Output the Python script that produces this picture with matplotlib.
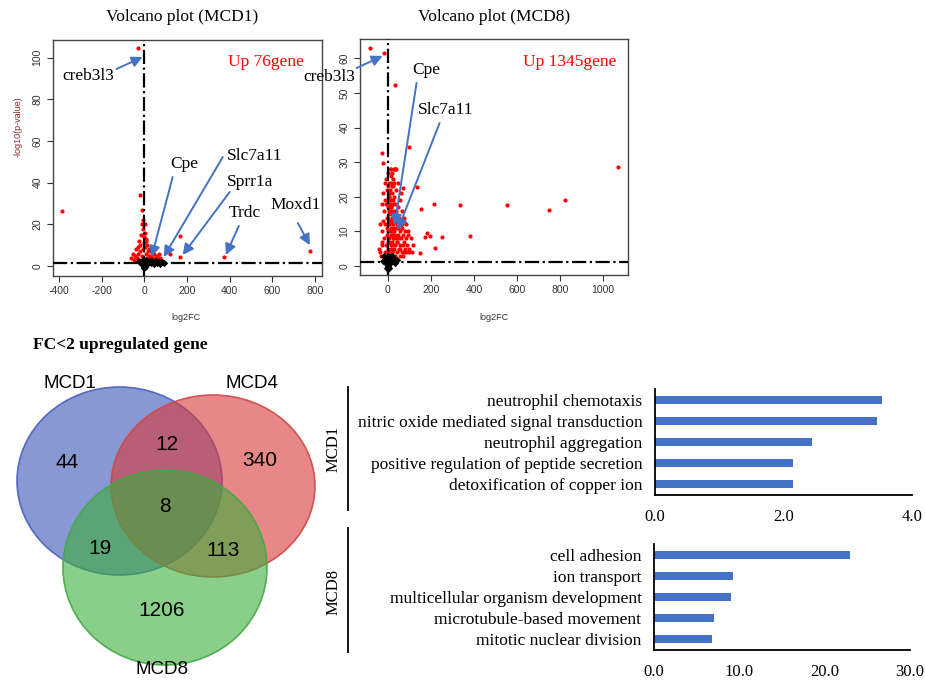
import numpy as np
import matplotlib.pyplot as plt
from matplotlib.patches import Ellipse

plt.rcParams["axes.unicode_minus"] = False

# -------------------------------------------------------------
# DATA
# -------------------------------------------------------------

# Volcano MCD1 (log2FC, -log10 p)
mcd1_red_x = [-30, -386, -22, -11, 169, 122, 167, 374, 775,
              -55, -45, -40, -35, -30, -25, -20, -15, -12, -8, -5, -3, 0, 3, 5,
              8, 10, 12, 15, 18, 20, 22, 25, 30, 35, 40, 45, 50, 55, 60, 70, 75,
              80, -10, -18, -28, -50, -62, 2, 6, -6, 14, 28, 38, 65]
mcd1_red_y = [104.8, 26.6, 34, 27, 14.4, 5.8, 4.3, 4.3, 7.4,
              6, 5, 8, 4, 9, 12, 7, 15, 20, 22, 18, 11, 14, 16, 9,
              13, 6, 10, 7, 4, 8, 5, 3, 5, 4, 3.5, 6, 4, 3, 5, 6, 4,
              3, 5, 10, 6, 3, 4, 20, 12, 8, 3, 7, 2.5, 3]
mcd1_black_x = [0, -5, 5, -10, 10, -15, 15, -20, 20, 0, 0, -5, 5, 30, 40, 50,
                60, 70, 80, 90, -25, 25, 0, -8, 8, -3, 3, 0, 35, 45, 55, 65, 75, 85]
mcd1_black_y = [0, 0.5, 0.5, 1, 1, 1.5, 1.5, 2, 2, 1, 2, 1.5, 1.5, 1.5, 1.8, 2,
                1.5, 1.7, 2, 1.5, 2.5, 2.5, 3, 2.8, 2.8, -0.5, -0.5, -1, 2.2, 1.2,
                2.4, 2.1, 1.2, 1.9]

# Volcano MCD8
mcd8_red_x = [-82, -19, 31, 98, -26, -23, 1070, 15, 27, 39, 136, 70, 155, 214,
              333, 553, 747, 823, 381, 250, 180, 194, 171, 220, 147,
              -40, -35, -30, -28, -25, -22, -20, -18, -15, -12, -10, -8, -6, -5,
              -3, -2, 0, 2, 3, 4, 5, 6, 7, 8, 9, 10, 11, 12, 13, 14, 15, 16, 17,
              18, 19, 20, 21, 22, 23, 24, 25, 26, 27, 28, 29, 30, 31, 32, 33, 34,
              35, 36, 37, 38, 39, 40, 42, 44, 46, 48, 50, 52, 54, 56, 58, 60, 62,
              64, 66, 68, 70, 72, 75, 78, 80, 83, 86, 90, 95, 100, 105, 110, 115,
              -33, -26, -14, -1, 1, 8, 12, 18, 22, 28, 35, 45, 55, 65, 75, 85,
              -38, -30, -16, 92, 98, 24, 34,
              -4, 1, 4, 7, 10, 13, 16, 19, 22, 25, 2, 5, 9, 12, 15, 18, 21, 24,
              27, 30, -7, -1, 3, 6, 11, 14, 17, 20, 23, 26, 33, 37, 41, 45, 49,
              53, 57, 61, 67, 73]
mcd8_red_y = [63.1, 61.5, 52.3, 34.5, 32.8, 29.9, 28.5, 28, 28, 28, 22.7, 22.4,
              16.4, 17.9, 17.6, 17.6, 16.2, 19, 8.7, 8.5, 9.4, 8.7, 8.3, 5.1, 3.7,
              5, 4, 6, 10, 13, 21, 8, 16, 12, 19, 25, 6, 14, 22,
              9, 17, 27, 4, 12, 20, 24, 7, 15, 10, 18, 3, 22, 13, 6, 26, 9, 17, 4,
              11, 21, 14, 7, 19, 3, 12, 25, 8, 16, 5, 20, 10, 28, 13, 6, 18,
              3, 11, 22, 8, 15, 4, 12, 7, 17, 9, 5, 14, 3, 10, 6, 21, 8,
              4, 12, 6, 9, 3, 7, 5, 10, 4, 8, 6, 9, 5, 8, 4, 6,
              3, 7, 4, 5, 10, 28, 24, 27, 23, 24, 28, 24, 19, 16, 14, 12,
              12, 18, 24, 10, 4, 18, 14,
              11, 7, 16, 20, 13, 5, 11, 15, 9, 6, 23, 19, 21, 17, 13, 10, 16, 8,
              11, 15, 18, 14, 8, 12, 16, 19, 23, 4, 10, 14, 9, 16, 7, 11, 13,
              8, 5, 12, 11, 4]
mcd8_black_x = [0, -5, 5, -10, 10, -15, 15, 0, -5, 5, 0, -20, 20, 0, 25, 30, 35,
                40, -25, 10, -10, -3, 3]
mcd8_black_y = [0, 0.5, 0.5, 1, 1, 2, 2, 1.5, 2.5, 2.5, 3, 2.8, 2.8, -1, 1.5, 2,
                1, 1.8, 1.5, 2.5, 2.2, -0.5, -0.5]

# Venn counts (FC<2 upregulated genes)
venn_sets = ["MCD1", "MCD4", "MCD8"]
venn_regions = ["1", "12", "4", "124", "18", "48", "8"]
venn_counts = [44, 12, 340, 8, 19, 113, 1206]

# GO enrichment
go_mcd1_terms = ["neutrophil chemotaxis", "nitric oxide mediated signal transduction",
                 "neutrophil aggregation", "positive regulation of peptide secretion",
                 "detoxification of copper ion"]
go_mcd1_values = [3.53, 3.45, 2.44, 2.15, 2.15]
go_mcd8_terms = ["cell adhesion", "ion transport", "multicellular organism development",
                 "microtubule-based movement", "mitotic nuclear division"]
go_mcd8_values = [23.0, 9.2, 9.0, 7.0, 6.8]


# -------------------------------------------------------------
# HELPERS
# -------------------------------------------------------------

W, H = 925, 682
SERIF = "Liberation Serif"
SANS = "Liberation Sans"
ARROW = "#4472C4"


def rect(left, top, right, bottom):
    return [left / W, 1 - bottom / H, (right - left) / W, (bottom - top) / H]


def volcano(ax, rx, ry, bx, by, xlim, ylim, xticks, yticks):
    ax.scatter(rx, ry, s=9, c="#FF0000", linewidths=0, zorder=2)
    ax.scatter(bx, by, s=14, c="black", marker="D", linewidths=0, zorder=3)
    ax.axvline(0, color="black", ls="-.", lw=1.6, zorder=4)
    ax.axhline(1.3, color="black", ls="-.", lw=1.6, zorder=4)
    ax.set_xlim(xlim)
    ax.set_ylim(ylim)
    ax.set_xticks(xticks)
    ax.set_yticks(yticks)
    ax.tick_params(labelsize=7.5, direction="out", length=4, width=0.8,
                   colors="#333333")
    for lab in ax.get_xticklabels() + ax.get_yticklabels():
        lab.set_fontfamily(SANS)
    for lab in ax.get_yticklabels():
        lab.set_rotation(90)
        lab.set_va("center")
    for sp in ax.spines.values():
        sp.set_color("#444444")
        sp.set_linewidth(1)


def label_arrow(ax, text, txy, tail, tip):
    ax.text(txy[0], txy[1], text, family=SERIF, fontsize=12.5,
            ha="center", va="center", zorder=6, clip_on=False)
    ax.annotate("", xy=tip, xytext=tail, annotation_clip=False, zorder=6,
                arrowprops=dict(arrowstyle="-|>", color=ARROW, lw=1.4,
                                mutation_scale=16, shrinkA=0, shrinkB=0))


def go_bar(ax, terms, values, xmax, xticks):
    y = np.arange(len(terms))
    ax.barh(y, values, height=0.38, color="#4472C4")
    ax.set_ylim(len(terms) - 0.5, -0.5)
    ax.set_xlim(0, xmax)
    ax.set_yticks(y)
    ax.set_yticklabels(terms, family=SERIF, fontsize=12.5)
    ax.set_xticks(xticks)
    ax.set_xticklabels(["%.1f" % t for t in xticks], family=SERIF, fontsize=12)
    ax.tick_params(axis="both", length=0)
    ax.tick_params(axis="y", pad=9)
    ax.tick_params(axis="x", pad=10)
    for s in ["top", "right"]:
        ax.spines[s].set_visible(False)
    for s in ["left", "bottom"]:
        ax.spines[s].set_linewidth(1.3)
        ax.spines[s].set_color("black")


fig = plt.figure(figsize=(9.25, 6.82), dpi=100)

# -------------------------------------------------------------
# VOLCANO PLOTS
# -------------------------------------------------------------

ax1 = fig.add_axes(rect(53, 40, 322, 276))
volcano(ax1, mcd1_red_x, mcd1_red_y, mcd1_black_x, mcd1_black_y,
        (-428, 833), (-4.8, 108.5), range(-400, 801, 200), range(0, 101, 20))
ax1.text(569, 98, "Up 76gene", color="red", family=SERIF, fontsize=12.5,
         ha="center", va="center")
label_arrow(ax1, "creb3l3", (-261, 91), (-130, 94.6), (-8, 100.3))
label_arrow(ax1, "Cpe", (189, 49), (133, 42.7), (34, 4.3))
label_arrow(ax1, "Slc7a11", (518, 52.8), (368, 52.3), (91, 4.3))
label_arrow(ax1, "Sprr1a", (494, 40.3), (400, 35.5), (180, 5.3))
label_arrow(ax1, "Trdc", (471, 25.4), (443, 19.2), (382, 5.3))
label_arrow(ax1, "Moxd1", (710, 29.3), (720, 20.6), (776, 10))

ax2 = fig.add_axes(rect(360, 39, 628, 275))
volcano(ax2, mcd8_red_x, mcd8_red_y, mcd8_black_x, mcd8_black_y,
        (-130, 1116), (-2.6, 65.6), range(0, 1001, 200), range(0, 61, 10))
ax2.text(845, 59, "Up 1345gene", color="red", family=SERIF, fontsize=12.5,
         ha="center", va="center")
label_arrow(ax2, "creb3l3", (-271, 54.6), (-146, 57.2), (-25, 60.7))
label_arrow(ax2, "Cpe", (180, 56.6), (133, 52.9), (31, 11.8))
label_arrow(ax2, "Slc7a11", (268, 45), (240, 41.3), (45, 10.4))

fig.text(182 / W, 1 - 17 / H, "Volcano plot (MCD1)", family=SERIF, fontsize=12.5,
         ha="center", va="center")
fig.text(494 / W, 1 - 17 / H, "Volcano plot (MCD8)", family=SERIF, fontsize=12.5,
         ha="center", va="center")
fig.text(18 / W, 1 - 127 / H, "-log10(p-value)", family=SANS, fontsize=6.5,
         color="#8B2323", rotation=90, ha="center", va="center")
for cx in [186, 494]:
    fig.text(cx / W, 1 - 318 / H, "log2FC", family=SANS, fontsize=6.5,
             color="#333333", ha="center", va="center")

# -------------------------------------------------------------
# VENN DIAGRAM
# -------------------------------------------------------------

ov = fig.add_axes([0, 0, 1, 1], zorder=-1)
ov.set_xlim(0, W)
ov.set_ylim(H, 0)
ov.axis("off")

venn_shapes = [((119.5, 481), 205, 188, "#3854B7", "#4A5FC1"),
               ((213, 486), 204, 182, "#D93838", "#D04848"),
               ((165, 567.5), 204, 195, "#3BAF3B", "#45A845")]
for (c, w, h, fc, ec) in venn_shapes:
    ov.add_patch(Ellipse(c, w, h, facecolor=fc, alpha=0.6, edgecolor="none"))
    ov.add_patch(Ellipse(c, w, h, facecolor="none", edgecolor=ec, lw=1.2,
                         alpha=0.9))

region_xy = {"1": (67, 462), "12": (167, 445), "4": (260, 460), "124": (165, 507),
             "18": (100, 548), "48": (223, 550), "8": (162, 610)}
for reg, n in zip(venn_regions, venn_counts):
    x, y = region_xy[reg]
    ov.text(x, y, str(n), family=SANS, fontsize=15, ha="center", va="center")

set_xy = [(70, 383), (252, 384), (162, 670)]
for name, (x, y) in zip(venn_sets, set_xy):
    ov.text(x, y, name, family=SANS, fontsize=13.5, ha="center", va="center")

ov.text(33, 345, "FC<2 upregulated gene", family=SERIF, fontsize=12.5,
        fontweight="bold", ha="left", va="center")

# -------------------------------------------------------------
# GO BAR CHARTS
# -------------------------------------------------------------

ax3 = fig.add_axes(rect(655, 389, 912, 495))
go_bar(ax3, go_mcd1_terms, go_mcd1_values, 4.0, [0.0, 2.0, 4.0])

ax4 = fig.add_axes(rect(654, 544, 910, 650))
go_bar(ax4, go_mcd8_terms, go_mcd8_values, 30.0, [0.0, 10.0, 20.0, 30.0])

ov.plot([348, 348], [387, 510], color="black", lw=1.3)
ov.plot([348, 348], [528, 652], color="black", lw=1.3)
ov.text(334, 449, "MCD1", family=SERIF, fontsize=12, rotation=90,
        ha="center", va="center")
ov.text(334, 592, "MCD8", family=SERIF, fontsize=12, rotation=90,
        ha="center", va="center")

fig.savefig("out.png", dpi=100)
